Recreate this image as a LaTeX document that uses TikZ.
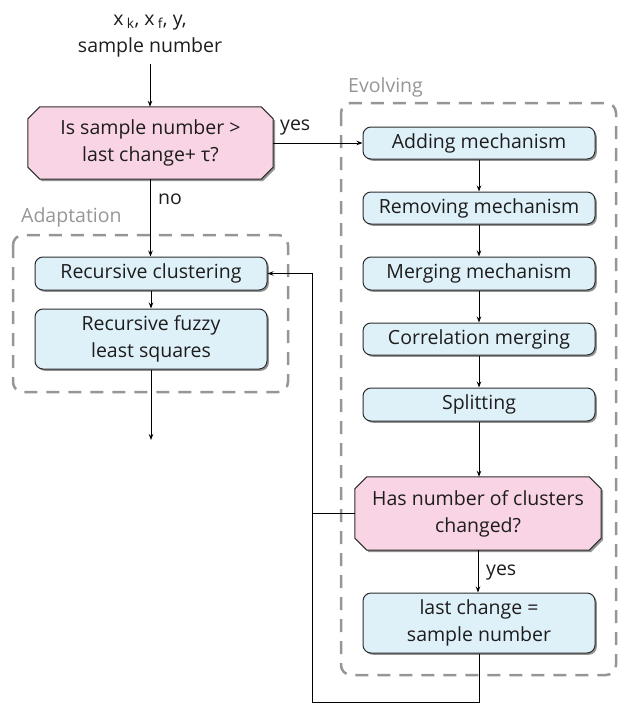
\documentclass[tikz,border=0pt]{standalone}
\usepackage{fontspec}
\setmainfont{Open Sans}
\usetikzlibrary{shadows,arrows.meta,backgrounds}
\definecolor{pinkfill}{RGB}{248,212,228}
\definecolor{bluefill}{RGB}{222,241,249}
\definecolor{edgec}{RGB}{45,45,45}
\definecolor{grpc}{RGB}{150,150,150}
\definecolor{txtc}{RGB}{30,28,28}
\newcommand\octabox[1]{%
  \path[decshape] ([xshift=12pt]#1.north west) -- ([xshift=-12pt]#1.north east)
    -- ([yshift=-12pt]#1.north east) -- ([yshift=12pt]#1.south east)
    -- ([xshift=-12pt]#1.south east) -- ([xshift=12pt]#1.south west)
    -- ([yshift=12pt]#1.south west) -- ([yshift=-12pt]#1.north west) -- cycle;}
\begin{document}
\begin{tikzpicture}[x=1pt,y=-1pt,
  font=\fontsize{19.5}{27}\selectfont, text=txtc,
  shadowed/.style={drop shadow={shadow xshift=1.8pt, shadow yshift=-1.8pt, fill=gray!85, opacity=1}},
  proc/.style={draw=edgec, line width=1pt, fill=bluefill, rounded corners=8pt,
    minimum width=232pt, inner sep=0pt, align=center, shadowed},
  dec/.style={rectangle, inner sep=0pt, align=center},
  decshape/.style={draw=edgec, line width=1pt, fill=pinkfill, shadowed},
  grpbox/.style={draw=grpc, line width=2.5pt, dash pattern=on 13pt off 9pt, rounded corners=10pt},
  grplabel/.style={text=grpc, anchor=base west, inner sep=0pt},
  lbl/.style={anchor=base west, inner sep=0pt},
  arr/.style={draw=black, line width=1pt, -{Stealth[length=6pt,width=4.5pt]}},
  ln/.style={draw=black, line width=1pt}
]
\useasboundingbox (0,0) rectangle (624,704);
% group frames
\draw[grpbox] (13,235) rectangle (288,392);
\draw[grpbox] (341,103) rectangle (616,675);
\node[grplabel] (adl) at (21,222) {Adaptation};
\node[grplabel] (evl) at (348,92) {Evolving};
% nodes
\node[align=center, inner sep=0pt] (in) at (150,36) {x\,\textsubscript{k}, x\,\textsubscript{f}, y,\\sample number};
\node[dec, minimum width=245pt, minimum height=72pt] (d1) at (150.5,143) {Is sample number >\\last change+ τ?};
\node[proc, minimum height=33pt] (rc) at (151,273.5) {Recursive clustering};
\node[proc, minimum height=60pt] (rf) at (151,339) {Recursive fuzzy\\least squares};
\node[proc, minimum height=32pt] (add) at (479,143) {Adding mechanism};
\node[proc, minimum height=32pt] (rem) at (479,208) {Removing mechanism};
\node[proc, minimum height=33pt] (mer) at (479,273.5) {Merging mechanism};
\node[proc, minimum height=32pt] (cor) at (479,339) {Correlation merging};
\node[proc, minimum height=33pt] (spl) at (479,404.5) {Splitting};
\node[dec, minimum width=246pt, minimum height=73pt] (d2) at (478,513.5) {Has number of clusters\\changed?};
\node[proc, minimum height=60pt] (lc) at (479,623) {last change =\\sample number};
\begin{scope}[on background layer]
  \octabox{d1}
  \octabox{d2}
\end{scope}
\node[lbl] (y1) at (280,130) {yes};
\node[lbl] (n1) at (158,204) {no};
\node[lbl] (y2) at (486,575) {yes};
\coordinate (out) at (151,440);
\coordinate (fbt) at (312,273.5);
\coordinate (fbb) at (312,702.5);
% connectors
\draw[arr] ([yshift=-7pt]in.south) -- (in.south |- d1.north);
\draw[arr] (d1.east) -- (add.west);
\draw[arr] (d1.south) -- (d1.south |- rc.north);
\draw[arr] (rc) -- (rf);
\draw[arr] (rf.south) -- (out);
\draw[arr] (add) -- (rem);
\draw[arr] (rem) -- (mer);
\draw[arr] (mer) -- (cor);
\draw[arr] (cor) -- (spl);
\draw[arr] (spl.south) -- (spl.south |- d2.north);
\draw[arr] (d2.south) -- (d2.south |- lc.north);
\draw[ln] (d2.west) -- (d2.west -| fbt);
\draw[arr] (lc.south) |- (fbb) -- (fbt) -- (rc.east);
\end{tikzpicture}
\end{document}
